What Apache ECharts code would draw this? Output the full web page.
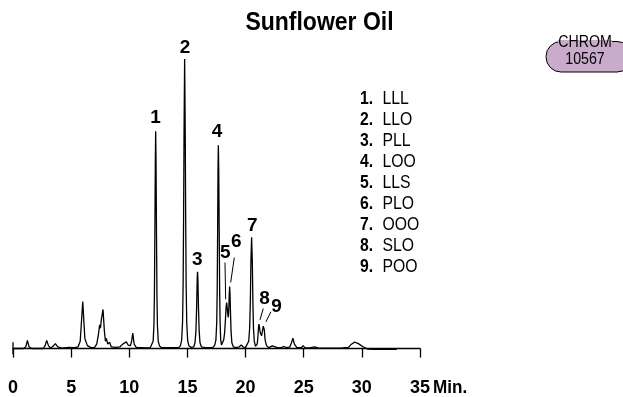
<!DOCTYPE html>
<html>
<head>
<meta charset="utf-8">
<script src="https://cdn.jsdelivr.net/npm/echarts@6/dist/echarts.min.js"></script>
<style>
html,body{margin:0;padding:0;background:#fff;}
#chart{width:623px;height:397px;}
</style>
</head>
<body>
<div id="chart"></div>
<script>
// ---- Data ----
const traceTime = [0,0.9,1.1,1.24,1.38,1.6,2.6,2.78,2.9,3.05,3.2,3.4,3.64,3.85,4.2,4.8,5.3,5.6,5.78,5.9,6.0,6.1,6.18,6.27,6.4,6.7,7.0,7.2,7.35,7.45,7.52,7.6,7.74,7.86,7.95,8.03,8.15,8.3,8.45,8.8,9.2,9.3,9.46,9.58,9.75,9.9,10.1,10.2,10.3,10.42,10.6,11.5,11.8,11.95,12.05,12.12,12.16,12.2,12.24,12.27,12.3,12.34,12.38,12.42,12.49,12.6,12.8,14.25,14.4,14.5,14.58,14.63,14.67,14.71,14.76,14.81,14.85,14.89,14.94,15.02,15.12,15.3,15.55,15.65,15.73,15.79,15.84,15.87,15.9,15.95,16.01,16.08,16.2,16.5,17.0,17.2,17.35,17.45,17.52,17.56,17.6,17.63,17.66,17.69,17.73,17.77,17.81,17.86,17.93,17.97,18.05,18.12,18.2,18.27,18.33,18.37,18.42,18.48,18.52,18.57,18.6,18.63,18.66,18.7,18.75,18.82,18.95,19.2,19.45,19.63,19.8,20.0,20.15,20.27,20.35,20.41,20.46,20.52,20.58,20.63,20.68,20.75,20.85,20.92,21.0,21.06,21.11,21.15,21.19,21.26,21.37,21.45,21.52,21.56,21.61,21.68,21.8,22.0,22.15,22.3,22.45,22.8,23.1,23.3,23.5,23.8,23.95,24.07,24.2,24.4,24.8,24.94,25.1,25.5,25.94,26.2,27.0,28.3,28.5,28.67,28.85,29.1,29.38,29.7,30.1,30.5,31.0,33.0];
const traceSignal = [0,0,0.6,2.8,0.6,0,0,1.2,2.8,1.0,0.2,0.6,1.7,0.6,0.1,0.4,0.3,0.6,2.5,10,16.2,9,3.5,2.4,1.0,0.3,0.3,1.5,5,8.2,7.0,10,13.5,6,2.5,3.5,1.5,2.2,0.6,0.4,0.6,1.2,1.6,1.0,2.3,1.2,1.0,2.5,5.3,1.5,0.4,0.2,0.3,0.9,2.5,8,18,40,64,75,64,40,18,8,2.5,0.9,0.3,0.3,1.0,2.8,9,22,45,75,100,75,45,22,9,2.8,1.0,0.4,0.6,2,6,14,24,26.5,24,14,6,2,0.6,0.3,0.3,0.4,1.2,3,9,20,42,62,70.2,62,42,20,9,3,1.2,1.0,1.6,3,5.5,10,14.5,15.9,14,11.5,10.8,15,19,21.4,19,13,6,2,0.6,0.3,0.6,1.2,0.5,0.4,0.8,2.5,7,16,30,38.4,30,16,7,2.5,0.8,0.6,1.5,4,7.2,8.4,7.5,5.5,4.4,6,7.7,8.1,6.5,3,1.0,0.3,0.5,0.9,0.3,0.2,0.4,0.7,0.3,0.5,2,3.6,1.5,0.4,0.3,1.0,0.3,0.2,0.6,0.2,0.1,0.1,0.3,0.5,0.4,1.5,2.2,1.7,0.6,-0.2,-0.3,-0.3];

const startMarkTime = [0, 0];
const startMarkSignal = [2.2, -2.0];

const peakNumbers = ['1','2','3','4','5','6','7','8','9'];
const compounds = ['LLL','LLO','PLL','LOO','LLS','PLO','OOO','SLO','POO'];
const peakLabelTime = [12.25, 14.79, 15.85, 17.54, 18.25, 19.2, 20.58, 21.64, 22.67];
const peakLabelSignal = [79.6, 104.0, 30.8, 74.9, 33.1, 36.8, 42.3, 17.3, 14.5];

// leader lines for peaks 5, 6, 8, 9
const leaderFromTime = [18.23, 19.03, 21.52, 22.18];
const leaderFromSignal = [29.7, 31.4, 13.8, 12.7];
const leaderToTime = [18.29, 18.72, 21.24, 21.75];
const leaderToSignal = [17.0, 22.8, 9.9, 9.2];

const xTicks = [0, 5, 10, 15, 20, 25, 30, 35];
const titleText = 'Sunflower Oil';
const badgeLines = ['CHROM', '10567'];

// ---- Build chart ----
const FONT = "'Liberation Sans', Arial, Helvetica, sans-serif";
const chart = echarts.init(document.getElementById('chart'), null, {renderer: 'canvas'});

const traceData = traceTime.map((t, i) => [t, traceSignal[i]]);
const startData = startMarkTime.map((t, i) => [t, startMarkSignal[i]]);
const labelData = peakNumbers.map((n, i) => ({name: n, value: [peakLabelTime[i], peakLabelSignal[i]]}));
const leaderData = leaderFromTime.map((t, i) => ({coords: [[t, leaderFromSignal[i]], [leaderToTime[i], leaderToSignal[i]]]}));

const legendGraphics = peakNumbers.map((n, i) => ({
  type: 'text',
  x: 360,
  y: 99.5 + i * 21,
  scaleX: 0.9,
  originX: 0,
  style: {
    text: '{b|' + n + '.}{r|' + compounds[i] + '}',
    verticalAlign: 'middle',
    rich: {
      b: {fontFamily: FONT, fontWeight: 'bold', fontSize: 17.5, fill: '#000', width: 25},
      r: {fontFamily: FONT, fontWeight: 'normal', fontSize: 17.5, fill: '#000'}
    }
  }
}));

const option = {
  backgroundColor: '#fff',
  animation: false,
  grid: {left: 13, right: 203, top: 59, bottom: 33, containLabel: false},
  xAxis: {
    type: 'value', min: 0, max: 35, interval: 5,
    axisLine: {show: true, lineStyle: {color: '#000', width: 1.3}},
    axisTick: {show: true, length: 9, lineStyle: {color: '#000', width: 1.3}},
    splitLine: {show: false},
    axisLabel: {
      color: '#000', fontFamily: FONT, fontWeight: 'bold', fontSize: 18, margin: 16,
      formatter: v => xTicks.indexOf(v) >= 0 ? String(v) : ''
    }
  },
  yAxis: {type: 'value', min: -5, max: 100, show: false},
  series: [
    {
      type: 'line', data: traceData, showSymbol: false, symbol: 'none', clip: false,
      lineStyle: {color: '#000', width: 1.3}, smooth: false, z: 3
    },
    {
      type: 'line', data: startData, showSymbol: false, symbol: 'none', clip: false,
      lineStyle: {color: '#000', width: 1.3}
    },
    {
      type: 'scatter', data: labelData, symbolSize: 0, clip: false,
      itemStyle: {opacity: 1},
      label: {
        show: true, position: 'inside', formatter: p => p.name, opacity: 1,
        color: '#000', fontFamily: FONT, fontWeight: 'bold', fontSize: 19
      }
    },
    {
      type: 'lines', coordinateSystem: 'cartesian2d', data: leaderData,
      lineStyle: {color: '#000', width: 1, opacity: 1}, symbol: 'none'
    }
  ],
  graphic: [
    {
      type: 'text', x: 319.5, y: 23.5, scaleX: 0.92,
      style: {text: titleText, fontFamily: FONT, fontWeight: 'bold', fontSize: 25, fill: '#000', align: 'center', verticalAlign: 'middle'}
    },
    {
      type: 'text', x: 433, y: 388.5, scaleX: 0.95,
      style: {text: 'Min.', fontFamily: FONT, fontWeight: 'bold', fontSize: 18, fill: '#000', verticalAlign: 'middle'}
    },
    {
      type: 'rect', shape: {x: 546, y: 41.5, width: 86, height: 30.5, r: 15},
      style: {fill: '#c9abcb', stroke: '#000', lineWidth: 1}
    },
    {
      type: 'rect', shape: {x: 558, y: 40, width: 54, height: 3},
      style: {fill: '#c9abcb'}
    },
    {
      type: 'text', x: 585, y: 42, scaleX: 0.86,
      style: {text: badgeLines[0], fontFamily: FONT, fontSize: 16.5, fill: '#000', align: 'center', verticalAlign: 'middle'}
    },
    {
      type: 'text', x: 585, y: 59.5, scaleX: 0.86,
      style: {text: badgeLines[1], fontFamily: FONT, fontSize: 16.5, fill: '#000', align: 'center', verticalAlign: 'middle'}
    }
  ].concat(legendGraphics)
};
chart.setOption(option);
</script>
</body>
</html>
